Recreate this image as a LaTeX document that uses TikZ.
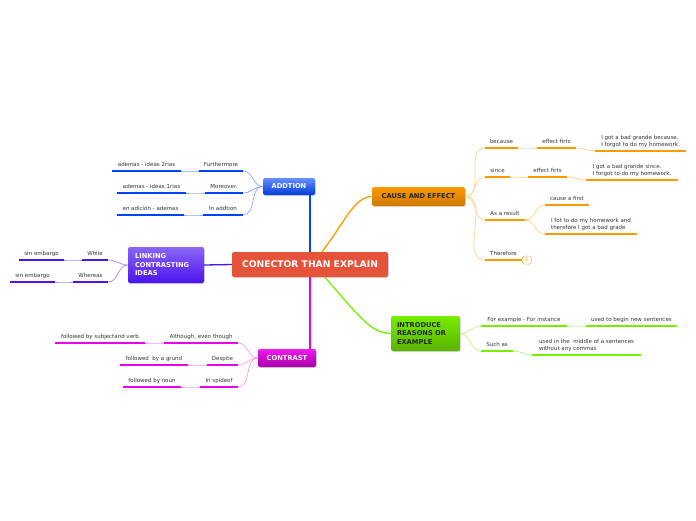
\documentclass[tikz,border=0pt]{standalone}
\usepackage{fontspec}
\setmainfont{DejaVu Sans}
\usetikzlibrary{shadows,positioning}
\definecolor{hubred}{HTML}{E5533B}
\definecolor{addblue}{HTML}{0044FF}
\definecolor{linkviolet}{HTML}{4A14EE}
\definecolor{contrmag}{HTML}{EE00EE}
\definecolor{causeorange}{HTML}{FF9900}
\definecolor{introgreen}{HTML}{77EE00}
\newcommand{\leaf}[5]{%
    \node[leaftxt, minimum width=#4, anchor=south] (#1) at #3 {#5};%
    \draw[#2, line width=2.2pt] (#1.south west) -- (#1.south east);%
}

\begin{document}
\begin{tikzpicture}[
        x=1pt,
        y=-1pt,
        leaftxt/.style={font=\fontsize{5.5}{6.6}\selectfont, text=black!80, inner xsep=0pt,
                        inner ysep=3pt, text depth=1.5pt, align=left},
        hub/.style={rounded corners=2pt, fill=hubred, text=white, minimum width=156, minimum height=25,
                    font=\bfseries\fontsize{9.2}{10}\selectfont,
                    drop shadow={opacity=0.3, shadow xshift=0.8pt, shadow yshift=-1pt}},
        topic/.style={rounded corners=2pt, text=white, inner sep=0pt, align=left,
                      font=\bfseries\fontsize{6.7}{8.5}\selectfont,
                      drop shadow={opacity=0.3, shadow xshift=0.8pt, shadow yshift=-1pt}},
        twig/.style={line width=0.7pt},
        branch/.style={line width=1.3pt}
    ]
        \useasboundingbox (0,0) rectangle (696,520);

        \node[hub] (conector) at (310,264.5) {CONECTOR THAN EXPLAIN};
        \node[topic, top color=addblue!60, bottom color=addblue!85!black, minimum width=52, minimum height=17]
            (addtion) at (289,186.5) {ADDTION};
        \node[topic, top color=linkviolet!65, bottom color=linkviolet, minimum width=76, minimum height=36,
              text width=62] (linking) at (166,265) {LINKING\\CONTRASTING\\IDEAS};
        \node[topic, top color=contrmag!90, bottom color=contrmag!70!black, minimum width=58, minimum height=18]
            (contrast) at (287,358) {CONTRAST};
        \node[topic, top color=causeorange, bottom color=causeorange!80!black, text=black!85,
              minimum width=93, minimum height=19] (cause) at (418.5,196.5) {CAUSE AND EFFECT};
        \node[topic, top color=introgreen, bottom color=introgreen!75!black, text=black!85,
              minimum width=69, minimum height=35, text width=57] (intro) at (425.5,333.5)
            {INTRODUCE\\REASONS OR\\EXAMPLE};

        \draw[branch, addblue] (conector.north) -- (conector.north |- addtion.south);
        \draw[branch, contrmag] (conector.south) -- (conector.south |- contrast.north);
        \draw[branch, linkviolet] (conector.west) -- (linking.east);
        \draw[branch, causeorange] ([xshift=12pt]conector.north) .. controls (345,222) and (354,197) .. (cause.west);
        \draw[branch, introgreen] ([xshift=15pt]conector.south) .. controls (362,320) and (372,333) .. (intro.west);

        \leaf{furth}{addblue}{(221,171)}{44}{Furthermore}
        \leaf{ademastwo}{addblue}{(146.5,171)}{69}{ademas - ideas 2rias}
        \leaf{moreover}{addblue}{(224,193)}{38}{Moreover.}
        \leaf{ademasone}{addblue}{(151.5,193)}{69}{ademas - ideas 1rias}
        \leaf{inadd}{addblue}{(223,215)}{40}{In addtion}
        \leaf{enadicion}{addblue}{(150.5,215)}{67}{en adicion - ademas}
        \foreach \a/\b in {furth/ademastwo, moreover/ademasone, inadd/enadicion} {
            \draw[twig, addblue!45] (addtion.west) to[out=180, in=0] (\a.south east);
            \draw[twig, addblue!45] (\a.south west) to[out=180, in=0] (\b.south east);
        }

        \leaf{while}{linkviolet}{(95,260)}{26}{While}
        \leaf{sinembone}{linkviolet}{(41.5,260)}{45}{sin embargo}
        \leaf{whereas}{linkviolet}{(90.5,282)}{35}{Whereas}
        \leaf{sinembtwo}{linkviolet}{(32.5,282)}{45}{sin embargo}
        \foreach \a/\b in {while/sinembone, whereas/sinembtwo} {
            \draw[twig, linkviolet!50] (linking.west) to[out=180, in=0] (\a.south east);
            \draw[twig, linkviolet!50] (\a.south west) to[out=180, in=0] (\b.south east);
        }

        \leaf{although}{contrmag}{(201,343)}{74}{Although, even though}
        \leaf{subjverb}{contrmag}{(100,343)}{90}{followed by subjectand verb}
        \leaf{despite}{contrmag}{(222.5,365)}{31}{Despite}
        \leaf{grund}{contrmag}{(154,365)}{68}{followed\ \ by a grund}
        \leaf{spideof}{contrmag}{(219,387)}{38}{In spideof}
        \leaf{noun}{contrmag}{(152,387)}{58}{followed by noun}
        \foreach \a/\b in {although/subjverb, despite/grund, spideof/noun} {
            \draw[twig, contrmag!40] (contrast.west) to[out=180, in=0] (\a.south east);
            \draw[twig, contrmag!40] (\a.south west) to[out=180, in=0] (\b.south east);
        }

        \leaf{because}{causeorange}{(501.5,148)}{33}{because}
        \leaf{efirstone}{causeorange}{(556.5,148)}{39}{effect firts}
        \leaf{gotbecause}{causeorange}{(640.5,151)}{91}{I got a bad grande because.\\I forgot to do my homework.}
        \leaf{since}{causeorange}{(497.5,177)}{25}{since}
        \leaf{efirsttwo}{causeorange}{(547.5,177)}{39}{effect firts}
        \leaf{gotsince}{causeorange}{(632,180)}{92}{I got a bad grande since.\\I forgot to do my homework.}
        \leaf{asresult}{causeorange}{(505,220)}{40}{As a result}
        \leaf{causefirst}{causeorange}{(567,205)}{44}{cause a first}
        \leaf{fot}{causeorange}{(591,234)}{92}{I fot to do my homework and\\therefore I got a bad grade}
        \leaf{therefore}{causeorange}{(503.5,260)}{37}{Therefore}
        \node[draw=causeorange!70, line width=0.5pt, fill=white, rounded corners=1.5pt, text=causeorange,
              inner sep=0pt, minimum width=9, minimum height=8, font=\fontsize{5}{5}\selectfont, anchor=west]
            (badge) at (therefore.south east) {1};
        \foreach \a in {because, since, asresult, therefore}
            \draw[twig, causeorange!45] (cause.east) to[out=0, in=180] (\a.south west);
        \foreach \a/\b in {because/efirstone, efirstone/gotbecause, since/efirsttwo, efirsttwo/gotsince,
                           asresult/causefirst, asresult/fot}
            \draw[twig, causeorange!45] (\a.south east) to[out=0, in=180] (\b.south west);

        \leaf{forexample}{introgreen}{(524,326)}{86}{For example - For instance}
        \leaf{beginnew}{introgreen}{(631.5,326)}{91}{used to begin new sentences}
        \leaf{suchas}{introgreen}{(497,351)}{32}{Such as}
        \leaf{middle}{introgreen}{(586.5,355)}{109}{used in the\ \ middle of a sentences\\without any commas}
        \foreach \a/\b in {forexample/beginnew, suchas/middle} {
            \draw[twig, introgreen!50] (intro.east) to[out=0, in=180] (\a.south west);
            \draw[twig, introgreen!50] (\a.south east) to[out=0, in=180] (\b.south west);
        }
    \end{tikzpicture}
\end{document}
